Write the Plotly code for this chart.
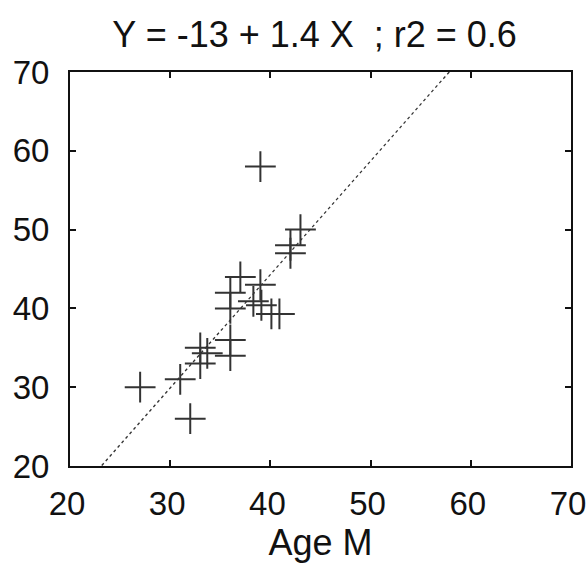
import numpy as np
import plotly.graph_objects as go

# Paired ages: x = Age M, y = partner age
age_m = [27, 31, 32, 33, 33, 33.7, 36, 36, 36, 36, 37, 38.3, 39.1, 39, 39, 40.1, 40.9, 42, 42, 43]
age_y = [30, 31, 26, 35, 33, 34.3, 36, 34, 42, 40, 44, 40.9, 40.4, 43, 58, 39.3, 39.3, 47, 48, 50]

# Fitted regression line
intercept = -13.3
slope = 1.44
r2 = 0.6

axis_ticks = [20, 30, 40, 50, 60, 70]

line_x = np.array([20.0, 70.0])
line_y = intercept + slope * line_x

title_text = "Y = %d + %.1f X &nbsp;; r2 = %.1f" % (round(intercept), slope, r2)

family = "Liberation Sans, Arial, sans-serif"
big_font = dict(family=family, size=36, color="#111")
tick_font = dict(family=family, size=33, color="#111")

fig = go.Figure()
fig.add_trace(go.Scatter(
    x=line_x, y=line_y, mode="lines",
    line=dict(color="#333", width=1.3, dash="dot"),
    hoverinfo="skip", showlegend=False,
))
fig.add_trace(go.Scatter(
    x=age_m, y=age_y, mode="markers",
    marker=dict(symbol="cross-thin", size=22, line=dict(color="#333", width=2)),
    showlegend=False,
))

axis_common = dict(
    range=[20, 70], tickvals=axis_ticks, ticktext=[str(t) for t in axis_ticks],
    showgrid=False, zeroline=False, automargin=False,
    showline=True, linecolor="#111", linewidth=2, mirror="ticks",
    ticks="inside", ticklen=6, tickwidth=2, tickcolor="#111",
    tickfont=tick_font, ticklabeloverflow="allow",
)

fig.update_layout(
    width=588, height=566,
    margin=dict(l=70, r=17, t=72, b=100, autoexpand=False),
    paper_bgcolor="white", plot_bgcolor="white",
    title=dict(text=title_text, font=big_font, x=0.535, xanchor="center",
               y=0.94, yanchor="middle"),
    xaxis=dict(**axis_common, title=dict(text="Age M", font=big_font, standoff=8),
               ticklabelstandoff=7, ticklabelshift=-3),
    yaxis=dict(**axis_common, ticklabelstandoff=12),
)

fig.write_html("out.html")
